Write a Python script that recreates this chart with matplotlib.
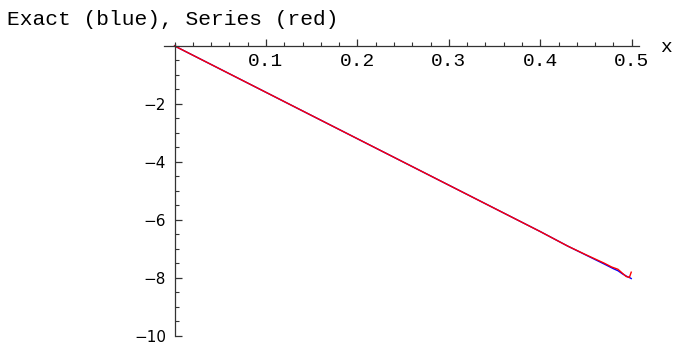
import matplotlib
matplotlib.use("Agg")
import matplotlib.pyplot as plt
from matplotlib.ticker import MultipleLocator

# exact solution and truncated series, sampled on [0, 0.5]
x_exact = [0.0, 0.1, 0.2, 0.3, 0.4, 0.43, 0.45, 0.47, 0.48, 0.485, 0.49, 0.495, 0.4985, 0.4995]
y_exact = [0.0, -1.6, -3.2, -4.8, -6.4, -6.9, -7.21, -7.52, -7.68, -7.75, -7.86, -7.95, -8.0, -8.02]

x_series = [0.0, 0.1, 0.2, 0.3, 0.4, 0.43, 0.45, 0.47, 0.478, 0.485, 0.49, 0.494, 0.4975, 0.4995]
y_series = [0.0, -1.6, -3.2, -4.8, -6.4, -6.9, -7.2, -7.49, -7.62, -7.7, -7.84, -7.95, -7.98, -7.8]

x_ticks = [0.1, 0.2, 0.3, 0.4, 0.5]
x_ticklabels = ["0.1", "0.2", "0.3", "0.4", "0.5"]
y_ticks = [-2, -4, -6, -8, -10]
y_ticklabels = ["\u22122", "\u22124", "\u22126", "\u22128", "\u221210"]

fig = plt.figure(figsize=(6.76, 3.45), dpi=100)
ax = fig.add_axes([164 / 676, 9 / 345, (639 - 164) / 676, (336 - 43) / 345])

ax.plot(x_exact, y_exact, color="#0000ff", lw=1.0)
ax.plot(x_series, y_series, color="#ff0000", lw=1.0)

ax.set_xlim(-0.0115, 0.508)
ax.set_ylim(-10, 0.1)

for side in ("top", "right"):
    ax.spines[side].set_visible(False)
ax.spines["left"].set_position(("data", 0))
ax.spines["bottom"].set_position(("data", 0))
ax.spines["bottom"].set_bounds(-0.0115, 0.508)
ax.spines["left"].set_bounds(-10, 0.05)
for side in ("left", "bottom"):
    ax.spines[side].set_linewidth(0.9)
    ax.spines[side].set_color("#333333")

ax.set_xticks(x_ticks)
ax.set_xticklabels(x_ticklabels, family="Liberation Mono", fontsize=14)
ax.set_yticks(y_ticks)
ax.set_yticklabels(y_ticklabels, family="DejaVu Sans", fontsize=11)
ax.xaxis.set_minor_locator(MultipleLocator(0.02))
ax.yaxis.set_minor_locator(MultipleLocator(0.5))

ax.tick_params(axis="both", which="major", direction="in", length=5, width=0.9, color="#333333")
ax.tick_params(axis="both", which="minor", direction="in", length=2.8, width=0.8, color="#333333")
ax.tick_params(axis="x", which="major", pad=5)
ax.tick_params(axis="y", which="major", pad=6)

fig.text(666 / 676, 1 - 47 / 345, "x", family="Liberation Mono", fontsize=14,
         ha="center", va="center")
fig.text(7 / 676, 1 - 25 / 345, "Exact (blue), Series (red)", family="Liberation Mono",
         fontsize=15.3, ha="left", va="baseline")

fig.savefig("out.png", dpi=100)
